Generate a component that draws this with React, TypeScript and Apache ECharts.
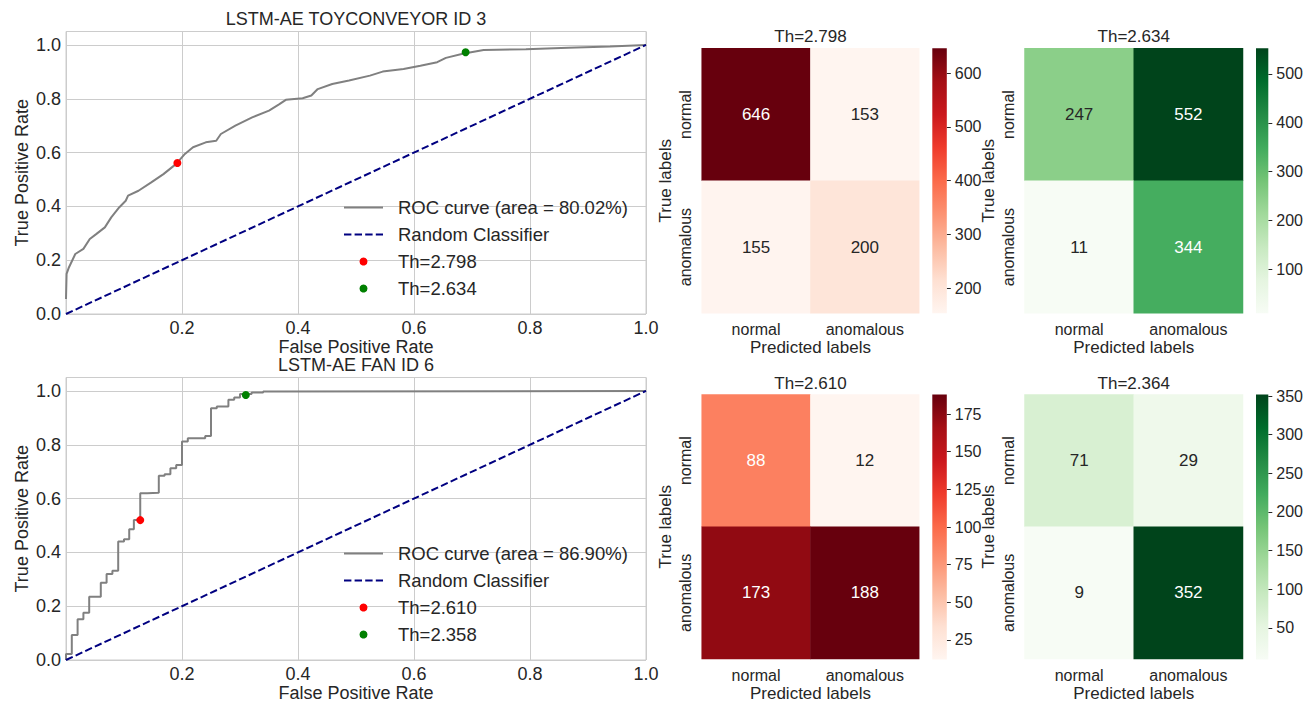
import React, { useEffect, useRef } from 'react';
import * as echarts from 'echarts';

// ---------------- data ----------------
const rocTitles = ['LSTM-AE TOYCONVEYOR ID 3', 'LSTM-AE FAN ID 6'];
const rocCurveNames = ['ROC curve (area = 80.02%)', 'ROC curve (area = 86.90%)'];
const randomName = 'Random Classifier';
const redNames = ['Th=2.798', 'Th=2.610'];
const greenNames = ['Th=2.634', 'Th=2.358'];
const xAxisTitle = 'False Positive Rate';
const yAxisTitle = 'True Positive Rate';

const toyFpr = [0, 0.001, 0.005, 0.016, 0.03, 0.041, 0.052, 0.067, 0.078, 0.092, 0.103, 0.107, 0.125, 0.147, 0.168, 0.19, 0.205, 0.219, 0.241, 0.259, 0.267, 0.292, 0.321, 0.35, 0.368, 0.379, 0.408, 0.423, 0.434, 0.459, 0.488, 0.524, 0.546, 0.582, 0.611, 0.64, 0.655, 0.684, 0.72, 0.793, 0.866, 0.938, 1.0];
const toyTpr = [0.056, 0.149, 0.173, 0.223, 0.242, 0.279, 0.297, 0.322, 0.359, 0.397, 0.421, 0.44, 0.458, 0.489, 0.52, 0.558, 0.595, 0.62, 0.638, 0.644, 0.669, 0.7, 0.731, 0.756, 0.78, 0.796, 0.802, 0.812, 0.836, 0.855, 0.868, 0.886, 0.901, 0.911, 0.923, 0.936, 0.952, 0.967, 0.981, 0.984, 0.99, 0.994, 1.0];

const fanFpr = [0, 0, 0.01, 0.01, 0.02, 0.02, 0.03, 0.03, 0.04, 0.04, 0.06, 0.06, 0.07, 0.07, 0.08, 0.08, 0.09, 0.09, 0.1, 0.1, 0.109, 0.109, 0.117, 0.117, 0.128, 0.128, 0.14, 0.14, 0.16, 0.16, 0.17, 0.17, 0.18, 0.18, 0.19, 0.19, 0.2, 0.2, 0.21, 0.21, 0.24, 0.24, 0.25, 0.25, 0.26, 0.26, 0.28, 0.28, 0.29, 0.29, 0.3, 0.3, 0.32, 0.32, 0.34, 0.34, 0.35, 0.35, 1.0];
const fanTpr = [0, 0.022, 0.022, 0.093, 0.093, 0.151, 0.151, 0.176, 0.176, 0.235, 0.235, 0.287, 0.287, 0.32, 0.32, 0.332, 0.332, 0.44, 0.44, 0.449, 0.449, 0.486, 0.486, 0.52, 0.52, 0.62, 0.62, 0.622, 0.622, 0.685, 0.685, 0.69, 0.69, 0.713, 0.713, 0.725, 0.725, 0.812, 0.812, 0.824, 0.824, 0.833, 0.833, 0.936, 0.936, 0.942, 0.942, 0.967, 0.967, 0.976, 0.976, 0.989, 0.989, 0.994, 0.994, 0.998, 0.998, 1.0, 1.0];

const redPoints = [[0.192, 0.561], [0.128, 0.52]];
const greenPoints = [[0.689, 0.973], [0.31, 0.985]];

const cmLabels = ['normal', 'anomalous'];
const cmTitles = ['Th=2.798', 'Th=2.634', 'Th=2.610', 'Th=2.364'];
// rows: true labels (normal, anomalous); columns: predicted labels
const cmToyRed = [[646, 153], [155, 200]];
const cmToyGreen = [[247, 552], [11, 344]];
const cmFanRed = [[88, 12], [173, 188]];
const cmFanGreen = [[71, 29], [9, 352]];
const cbTicksToyRed = [200, 300, 400, 500, 600];
const cbTicksToyGreen = [100, 200, 300, 400, 500];
const cbTicksFanRed = [25, 50, 75, 100, 125, 150, 175];
const cbTicksFanGreen = [50, 100, 150, 200, 250, 300, 350];

// ---------------- styles ----------------
const FONT = "'Liberation Sans', Arial, Helvetica, sans-serif";
const TXT = '#262626';
const GRIDC = '#cccccc';
const REDS = ['#fff5f0', '#fee0d2', '#fcbba1', '#fc9272', '#fb6a4a', '#ef3b2c', '#cb181d', '#a50f15', '#67000d'];
const GREENS = ['#f7fcf5', '#e5f5e0', '#c7e9c0', '#a1d99b', '#74c476', '#41ab5d', '#238b45', '#006d2c', '#00441b'];

const ROC_LAYOUT = [
  { left: 66, top: 31.5, width: 580, height: 282.5 },
  { left: 66, top: 377.5, width: 580, height: 282.5 },
];
const ROC_TITLE_TOP = [10, 356];
const ROC_LEGEND_TOP = [198, 544];
const HM_LAYOUT = [
  { left: 701.7, top: 48.3, width: 217.5, height: 265 },
  { left: 1024.5, top: 48.3, width: 218.5, height: 265 },
  { left: 701.7, top: 394.5, width: 217.5, height: 265 },
  { left: 1024.5, top: 394.5, width: 218.5, height: 265 },
];
const CB_LAYOUT = [
  { left: 932.3, width: 14.5 },
  { left: 1256, width: 14 },
  { left: 932.3, width: 14.5 },
  { left: 1256, width: 14 },
];
const HM_TITLE_TOP = [28, 28, 374.5, 374.5];

function hexToRgb(h: string) {
  const n = parseInt(h.slice(1), 16);
  return [(n >> 16) & 255, (n >> 8) & 255, n & 255];
}
function cmapRgb(stops: string[], t: number) {
  const c = Math.max(0, Math.min(1, t)) * (stops.length - 1);
  const i = Math.min(Math.floor(c), stops.length - 2);
  const f = c - i;
  const a = hexToRgb(stops[i]);
  const b = hexToRgb(stops[i + 1]);
  return a.map((v, k) => v + (b[k] - v) * f);
}
function relLum(rgb: number[]) {
  const [r, g, b] = rgb.map((v) => {
    const x = v / 255;
    return x <= 0.03928 ? x / 12.92 : Math.pow((x + 0.055) / 1.055, 2.4);
  });
  return 0.2126 * r + 0.7152 * g + 0.0722 * b;
}

function buildOption() {
  const grid: any[] = [];
  const xAxis: any[] = [];
  const yAxis: any[] = [];
  const series: any[] = [];
  const legend: any[] = [];
  const title: any[] = [];
  const visualMap: any[] = [];

  const curves = [
    { fpr: toyFpr, tpr: toyTpr },
    { fpr: fanFpr, tpr: fanTpr },
  ];

  curves.forEach((cv, i) => {
    grid.push({ ...ROC_LAYOUT[i], show: true, borderColor: GRIDC, borderWidth: 1, backgroundColor: 'transparent' });
    xAxis.push({
      type: 'value', gridIndex: i, min: 0, max: 1, interval: 0.2,
      name: xAxisTitle, nameLocation: 'middle', nameGap: 23,
      nameTextStyle: { fontSize: 18, color: TXT, fontFamily: FONT },
      axisLine: { show: false }, axisTick: { show: false },
      axisLabel: { fontSize: 18, color: TXT, fontFamily: FONT, margin: 5, formatter: (v: number) => (v === 0 ? '' : v.toFixed(1)) },
      splitLine: { show: true, lineStyle: { color: GRIDC, width: 1 } },
    });
    yAxis.push({
      type: 'value', gridIndex: i, min: 0, max: 1.05, interval: 0.2,
      name: yAxisTitle, nameLocation: 'middle', nameGap: 35,
      nameTextStyle: { fontSize: 18, color: TXT, fontFamily: FONT },
      axisLine: { show: false }, axisTick: { show: false },
      axisLabel: { fontSize: 18, color: TXT, fontFamily: FONT, margin: 5, formatter: (v: number) => (v > 1.001 ? '' : v.toFixed(1)) },
      splitLine: { show: true, lineStyle: { color: GRIDC, width: 1 } },
    });
    series.push({
      type: 'line', name: rocCurveNames[i], xAxisIndex: i, yAxisIndex: i,
      data: cv.fpr.map((x, k) => [x, cv.tpr[k]]),
      symbol: 'none', lineStyle: { color: '#808080', width: 2 }, itemStyle: { color: '#808080' },
      z: 2, silent: true,
    });
    series.push({
      type: 'line', name: randomName, xAxisIndex: i, yAxisIndex: i,
      data: [[0, 0], [1, 1]],
      symbol: 'none', lineStyle: { color: '#000080', width: 2, type: [7.4, 3.2] }, itemStyle: { color: '#000080' },
      z: 3, silent: true,
    });
    series.push({
      type: 'scatter', name: redNames[i], xAxisIndex: i, yAxisIndex: i,
      data: [redPoints[i]], symbol: 'circle', symbolSize: 8, itemStyle: { color: '#ff0000', opacity: 1 }, z: 4, silent: true,
    });
    series.push({
      type: 'scatter', name: greenNames[i], xAxisIndex: i, yAxisIndex: i,
      data: [greenPoints[i]], symbol: 'circle', symbolSize: 8, itemStyle: { color: '#008000', opacity: 1 }, z: 4, silent: true,
    });
    legend.push({
      orient: 'vertical', left: 343, top: ROC_LEGEND_TOP[i], padding: 0,
      itemWidth: 39, itemHeight: 8, itemGap: 8, selectedMode: false,
      textStyle: { fontSize: 18.5, color: TXT, fontFamily: FONT, padding: [0, 0, 0, 10] },
      data: [
        { name: rocCurveNames[i], itemStyle: { opacity: 0 } },
        { name: randomName, itemStyle: { opacity: 0 } },
        { name: redNames[i], icon: 'circle', itemStyle: { opacity: 1 } },
        { name: greenNames[i], icon: 'circle', itemStyle: { opacity: 1 } },
      ],
    });
    title.push({
      text: rocTitles[i], left: 356, top: ROC_TITLE_TOP[i], textAlign: 'center', padding: 0,
      textStyle: { fontSize: 18, fontWeight: 'normal', color: TXT, fontFamily: FONT },
    });
  });

  const mats = [
    { m: cmToyRed, stops: REDS, ticks: cbTicksToyRed },
    { m: cmToyGreen, stops: GREENS, ticks: cbTicksToyGreen },
    { m: cmFanRed, stops: REDS, ticks: cbTicksFanRed },
    { m: cmFanGreen, stops: GREENS, ticks: cbTicksFanGreen },
  ];

  mats.forEach((mt, k) => {
    const gi = 2 + k;
    const ci = 6 + k;
    const flat = mt.m.flat();
    const vmin = Math.min(...flat);
    const vmax = Math.max(...flat);
    const L = HM_LAYOUT[k];
    grid[gi] = { ...L };
    xAxis[gi] = {
      type: 'category', gridIndex: gi, data: cmLabels,
      axisLine: { show: false }, axisTick: { show: false }, splitLine: { show: false },
      axisLabel: { fontSize: 16, color: TXT, fontFamily: FONT, margin: 8 },
      name: 'Predicted labels', nameLocation: 'middle', nameGap: 26,
      nameTextStyle: { fontSize: 17, color: TXT, fontFamily: FONT },
    };
    yAxis[gi] = {
      type: 'category', gridIndex: gi, data: cmLabels, inverse: true,
      axisLine: { show: false }, axisTick: { show: false }, splitLine: { show: false },
      axisLabel: { fontSize: 16, color: TXT, fontFamily: FONT, margin: 8, rotate: 90 },
      name: 'True labels', nameLocation: 'middle', nameGap: 27.5,
      nameTextStyle: { fontSize: 17, color: TXT, fontFamily: FONT },
    };
    const data: any[] = [];
    mt.m.forEach((row, r) =>
      row.forEach((v, c) => {
        const rgb = cmapRgb(mt.stops, (v - vmin) / (vmax - vmin));
        data.push({ value: [c, r, v], label: { color: relLum(rgb) > 0.408 ? TXT : '#ffffff' } });
      })
    );
    const sIdx = series.length;
    series.push({
      type: 'heatmap', xAxisIndex: gi, yAxisIndex: gi, data,
      label: { show: true, fontSize: 17, fontFamily: FONT },
      emphasis: { disabled: true }, silent: true,
    });
    visualMap.push({
      type: 'continuous', show: false, seriesIndex: sIdx, dimension: 2,
      min: vmin, max: vmax, inRange: { color: mt.stops },
    });
    title.push({
      text: cmTitles[k], left: L.left + L.width / 2, top: HM_TITLE_TOP[k], textAlign: 'center', padding: 0,
      textStyle: { fontSize: 17, fontWeight: 'normal', color: TXT, fontFamily: FONT },
    });

    // colorbar
    grid[ci] = { left: CB_LAYOUT[k].left, width: CB_LAYOUT[k].width, top: L.top, height: L.height };
    xAxis[ci] = { type: 'category', gridIndex: ci, data: [''], show: false };
    yAxis[ci] = {
      type: 'value', gridIndex: ci, position: 'right', min: vmin, max: vmax,
      axisLine: { show: false }, splitLine: { show: false },
      axisTick: { show: true, length: 4, lineStyle: { color: TXT, width: 1 }, customValues: mt.ticks },
      axisLabel: { fontSize: 16, color: TXT, fontFamily: FONT, margin: 8, customValues: mt.ticks },
    };
    series.push({
      type: 'bar', xAxisIndex: ci, yAxisIndex: ci, stack: 'cb' + k, barWidth: '100%', silent: true,
      data: [vmin], itemStyle: { color: 'rgba(0,0,0,0)' },
    });
    series.push({
      type: 'bar', xAxisIndex: ci, yAxisIndex: ci, stack: 'cb' + k, barWidth: '100%', silent: true,
      data: [vmax - vmin],
      itemStyle: {
        color: {
          type: 'linear', x: 0, y: 1, x2: 0, y2: 0,
          colorStops: mt.stops.map((s, j) => ({ offset: j / (mt.stops.length - 1), color: s })),
        },
      },
    });
  });

  return {
    animation: false,
    backgroundColor: '#ffffff',
    textStyle: { fontFamily: FONT },
    title, grid, xAxis, yAxis, series, legend, visualMap,
  };
}

export default function App() {
  const ref = useRef<HTMLDivElement>(null);
  useEffect(() => {
    if (!ref.current) return;
    const chart = echarts.init(ref.current, null, { renderer: 'svg' });
    chart.setOption(buildOption() as any);
    return () => chart.dispose();
  }, []);
  return (
    <div
      ref={ref}
      style={{ position: 'fixed', left: 0, top: 0, width: 1306, height: 703, background: '#fff' }}
    />
  );
}
